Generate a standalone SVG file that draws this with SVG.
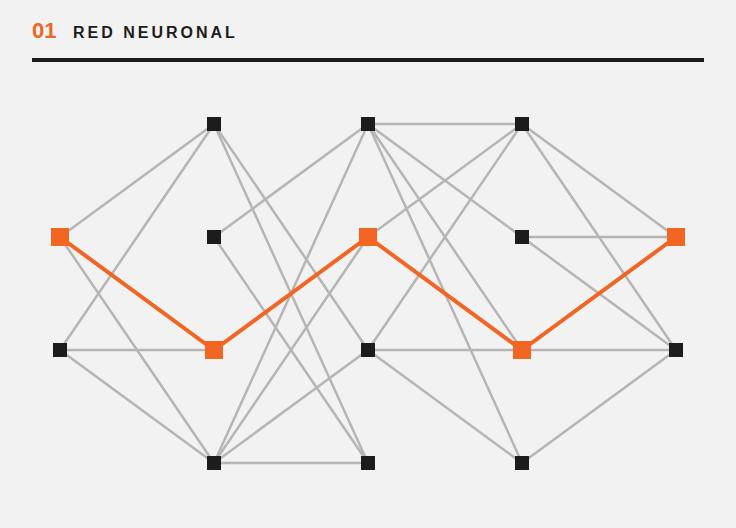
<svg xmlns="http://www.w3.org/2000/svg" width="736" height="528" viewBox="0 0 736 528">
<style>
.e{stroke:#b7b4b4;stroke-width:2.5;fill:none}
.h{stroke:#f26522;stroke-width:4;fill:none;stroke-linejoin:miter}
.n{fill:#1c1c1c}
.o{fill:#f26522}
</style>
<rect width="736" height="528" fill="#f2f2f2"/>
<g id="title">
<text x="32" y="38" font-family="Liberation Sans, Arial, sans-serif" font-weight="bold" font-size="22" fill="#f26522">01</text>
<text x="73" y="38" font-family="Liberation Sans, Arial, sans-serif" font-weight="bold" font-size="16" letter-spacing="3" fill="#1c1c1c">RED NEURONAL</text>
<rect x="32" y="58" width="672" height="4" fill="#1c1c1c"/>
</g>
<g id="connectors">
<g class="e">
<line x1="60" y1="237" x2="214" y2="124"/>
<line x1="60" y1="237" x2="214" y2="463"/>
<line x1="60" y1="350" x2="214" y2="124"/>
<line x1="60" y1="350" x2="214" y2="350"/>
<line x1="60" y1="350" x2="214" y2="463"/>
<line x1="214" y1="124" x2="368" y2="350"/>
<line x1="214" y1="124" x2="368" y2="463"/>
<line x1="214" y1="237" x2="368" y2="124"/>
<line x1="214" y1="237" x2="368" y2="463"/>
<line x1="214" y1="463" x2="368" y2="124"/>
<line x1="214" y1="463" x2="368" y2="237"/>
<line x1="214" y1="463" x2="368" y2="350"/>
<line x1="214" y1="463" x2="368" y2="463"/>
<line x1="368" y1="124" x2="522" y2="124"/>
<line x1="368" y1="124" x2="522" y2="237"/>
<line x1="368" y1="124" x2="522" y2="350"/>
<line x1="368" y1="124" x2="522" y2="463"/>
<line x1="368" y1="237" x2="522" y2="124"/>
<line x1="368" y1="350" x2="522" y2="124"/>
<line x1="368" y1="350" x2="522" y2="350"/>
<line x1="368" y1="350" x2="522" y2="463"/>
<line x1="522" y1="124" x2="676" y2="237"/>
<line x1="522" y1="124" x2="676" y2="350"/>
<line x1="522" y1="237" x2="676" y2="237"/>
<line x1="522" y1="237" x2="676" y2="350"/>
<line x1="522" y1="350" x2="676" y2="350"/>
<line x1="522" y1="463" x2="676" y2="350"/>
</g>
<polyline class="h" points="60,237 214,350 368,237 522,350 676,237"/>
</g>
<g id="n0a"><rect class="o" x="51" y="228" width="18" height="18"/></g>
<g id="n0b"><rect class="n" x="53" y="343" width="14" height="14"/></g>
<g id="n1a"><rect class="n" x="207" y="117" width="14" height="14"/></g>
<g id="n1b"><rect class="n" x="207" y="230" width="14" height="14"/></g>
<g id="n1c"><rect class="o" x="205" y="341" width="18" height="18"/></g>
<g id="n1d"><rect class="n" x="207" y="456" width="14" height="14"/></g>
<g id="n2a"><rect class="n" x="361" y="117" width="14" height="14"/></g>
<g id="n2b"><rect class="o" x="359" y="228" width="18" height="18"/></g>
<g id="n2c"><rect class="n" x="361" y="343" width="14" height="14"/></g>
<g id="n2d"><rect class="n" x="361" y="456" width="14" height="14"/></g>
<g id="n3a"><rect class="n" x="515" y="117" width="14" height="14"/></g>
<g id="n3b"><rect class="n" x="515" y="230" width="14" height="14"/></g>
<g id="n3c"><rect class="o" x="513" y="341" width="18" height="18"/></g>
<g id="n3d"><rect class="n" x="515" y="456" width="14" height="14"/></g>
<g id="n4a"><rect class="o" x="667" y="228" width="18" height="18"/></g>
<g id="n4b"><rect class="n" x="669" y="343" width="14" height="14"/></g>
</svg>
